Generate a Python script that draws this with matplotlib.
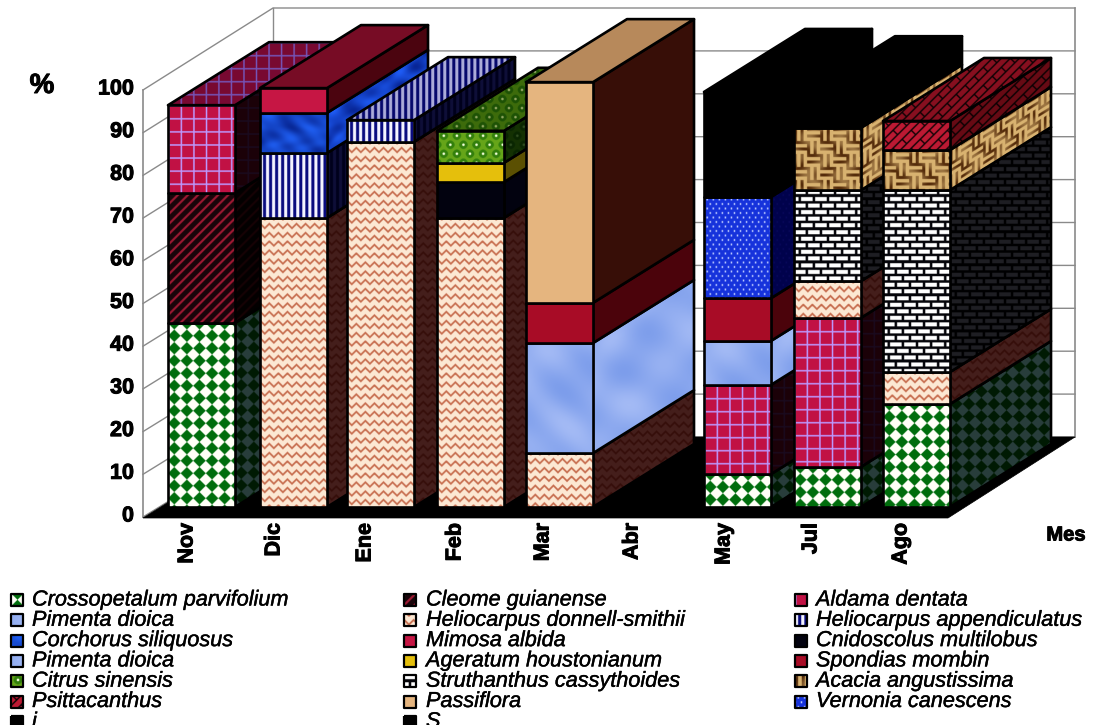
import numpy as np
import matplotlib
matplotlib.use('Agg')
import matplotlib.pyplot as plt
import matplotlib.patheffects as pe
from matplotlib.patches import Polygon
from matplotlib.transforms import Affine2D

months = ['Nov', 'Dic', 'Ene', 'Feb', 'Mar', 'Abr', 'May', 'Jul', 'Ago']

# percent per month, one list per species, in stacking order
crossopetalum = [43.1, 0, 0, 0, 0, 0, 7.7, 9.4, 24.1]
cleome = [30.4, 0, 0, 0, 0, 0, 0, 0, 0]
aldama = [20.6, 0, 0, 0, 0, 0, 20.9, 34.9, 0]
pimenta_a = [0, 0, 0, 0, 0, 0, 10.3, 0, 0]
helio_donnell = [0, 67.7, 85.5, 67.7, 12.6, 0, 0, 8.6, 7.5]
helio_append = [0, 15.2, 5.1, 0, 0, 0, 0, 0, 0]
corchorus = [0, 9.4, 0, 0, 0, 0, 0, 0, 0]
mimosa = [0, 5.8, 0, 0, 0, 0, 0, 0, 0]
cnidoscolus = [0, 0, 0, 8.4, 0, 0, 0, 0, 0]
pimenta_b = [0, 0, 0, 0, 25.8, 0, 0, 0, 0]
ageratum = [0, 0, 0, 4.5, 0, 0, 0, 0, 0]
spondias = [0, 0, 0, 0, 9.4, 0, 10.0, 0, 0]
citrus = [0, 0, 0, 7.5, 0, 0, 0, 0, 0]
struthanthus = [0, 0, 0, 0, 0, 0, 0, 21.3, 42.6]
acacia = [0, 0, 0, 0, 0, 0, 0, 14.6, 9.4]
psittacanthus = [0, 0, 0, 0, 0, 0, 0, 0, 6.8]
passiflora = [0, 0, 0, 0, 51.7, 0, 0, 0, 0]
vernonia = [0, 0, 0, 0, 0, 0, 23.7, 0, 0]
last_a = [0, 0, 0, 0, 0, 0, 24.6, 6.7, 0]
last_b = [0, 0, 0, 0, 0, 0, 0, 0, 0]

series = [crossopetalum, cleome, aldama, pimenta_a, helio_donnell, helio_append,
          corchorus, mimosa, cnidoscolus, pimenta_b, ageratum, spondias,
          citrus, struthanthus, acacia, psittacanthus, passiflora, vernonia,
          last_a, last_b]
names = ['Crossopetalum parvifolium', 'Cleome guianense', 'Aldama dentata',
         'Pimenta dioica', 'Heliocarpus donnell-smithii', 'Heliocarpus appendiculatus',
         'Corchorus siliquosus', 'Mimosa albida', 'Cnidoscolus multilobus',
         'Pimenta dioica', 'Ageratum houstonianum', 'Spondias mombin',
         'Citrus sinensis', 'Struthanthus cassythoides', 'Acacia angustissima',
         'Psittacanthus', 'Passiflora', 'Vernonia canescens', 'i', 'S']

y_ticks = [0, 10, 20, 30, 40, 50, 60, 70, 80, 90, 100]

# projection of the box, in pixels
FRONT_X, FRONT_Y0, FRONT_Y100 = 143, 517, 90
BACK_X0, BACK_X1, BACK_Y0, BACK_Y100 = 273, 1075, 437, 8
FLOOR_RIGHT = 948
bar_lefts = [168, 260, 347, 437, 526, 615, 704, 794, 883]
label_xs = [187, 274, 365, 455, 543, 632, 724, 811, 901]
BAR_W = 67
BAR_BASE, PX_PER_UNIT = 507, 4.27
DEPTH = (101, -63)

RES = 2  # texture samples per pixel
EDGE = 1.9


def c(*rgb):
    return np.array(rgb, dtype=float)


def mix(mask, fg, bg):
    mask = np.clip(mask, 0, 1)[..., None]
    return mask * fg + (1 - mask) * bg


def tex_diamond(x, y):
    p = 12.5
    odd = (np.floor((x + y) / p) + np.floor((x - y) / p)) % 2
    return mix(odd, c(1, 1, .97), c(0, .43, .05))


def tex_hatch(x, y):
    return mix(((x + y) % 10) < 2.6, c(.62, .1, .2), c(.1, .02, .04))


def tex_plaid(x, y):
    m = ((x % 12.5) < 1.3) | ((y % 13) < 1.3)
    return mix(m, c(.74, .6, 1), c(.76, .07, .27))


def tex_marble_light(x, y):
    n = (np.sin(x / 17 + np.sin(y / 23) * 2) + np.sin(y / 13 + x / 31) + np.sin((x - y) / 9)) / 3
    return c(.56, .67, .94) + n[..., None] * c(.08, .06, .02)


def tex_chevron(x, y):
    px = 9.0
    tri = np.abs((x % px) / px - .5) * 2 * 4.4
    return mix(((y + tri) % 8.8) < 2.5, c(.78, .43, .31), c(.99, .91, .83))


def tex_stripes(x, y):
    return mix((x % 6) < 3, c(.96, .96, 1), c(.04, .05, .5))


def tex_marble_blue(x, y):
    n = (np.sin(x / 7 + np.sin(y / 5) * 2) + np.sin(y / 6 + x / 11) + np.sin((x - y) / 4)) / 3
    return c(.08, .27, .78) + n[..., None] * c(.05, .12, .2)


def tex_bricks(x, y):
    row = np.floor(y / 6.6)
    xx = x + (row % 2) * 7
    m = ((y % 6.6) < 4) & ((xx % 14) < 11.5)
    return mix(m, c(1, 1, 1), c(.02, .02, .04))


def tex_green_dots(x, y):
    row = np.floor(y / 9)
    xx = x + (row % 2) * 6.5
    d = np.hypot((xx % 13) - 6.5, (y % 9) - 4.5)
    out = mix(d < 4.2, c(.2, .5, .05), c(.4, .65, .1))
    return mix(d < 1.4, c(.95, 1, .85), out)


def tex_weave(x, y):
    cell = (np.floor(x / 13) + np.floor(y / 13)) % 2
    a = np.where(cell > 0, (y % 6.5) < 2.6, (x % 6.5) < 2.6)
    n = .5 + .5 * np.sin(x / 5 + np.sin(y / 6) * 2)
    return mix(a * (.45 + .55 * n), c(.33, .17, .04), c(.85, .7, .44))


def tex_red_brick(x, y):
    m1 = ((x + y) % 9) < 1.8
    m2 = (((x - y) % 18) < 2) & (((x + y) % 18) < 9)
    return mix(m1 | m2, c(.06, .01, .02), c(.74, .1, .2))


def tex_blue_dots(x, y):
    row = np.floor(y / 4.5)
    xx = x + (row % 2) * 3
    d = np.hypot((xx % 6) - 3, (y % 4.5) - 2.25)
    return mix(d < 1.0, c(.72, .78, 1), c(.09, .2, .86))


def flat(col):
    return lambda x, y: np.broadcast_to(c(*col), x.shape + (3,))


textures = [tex_diamond, tex_hatch, tex_plaid, tex_marble_light, tex_chevron,
            tex_stripes, tex_marble_blue, flat((.78, .09, .27)), flat((.01, .01, .06)),
            tex_marble_light, flat((.9, .75, .05)), flat((.66, .05, .15)),
            tex_green_dots, tex_bricks, tex_weave, tex_red_brick,
            flat((.9, .71, .5)), tex_blue_dots, flat((0, 0, 0)), flat((0, 0, 0))]
# fill effects follow the face, hatch patterns stay aligned with the page
follows_face = [tex_marble_light, tex_marble_blue, tex_weave]

side_shades = [(.16, .24, .24), (.14, .08, .08), (.14, .07, .12), (1, 1, 1), (.27, .13, .13),
               (.06, .06, .22), (.95, .95, 1), (.38, .18, .22), (1, 1, 1), (1, 1, 1),
               (.4, .42, .2), (.45, .3, .3), (.2, .3, .15), (.12, .12, .14), (1, 1, 1),
               (.55, .4, .4), (.24, .08, .06), (.04, .04, .35), (1, 1, 1), (1, 1, 1)]
top_shades = [(.5, .5, .5), (.6, .6, .6), (.62, .55, .72), (1, 1, 1), (.6, .5, .5),
              (.7, .7, .85), (1, 1, 1), (.6, .55, .55), (1, 1, 1), (1, 1, 1),
              (.7, .7, .5), (.7, .6, .6), (.6, .65, .45), (.4, .4, .4), (1, 1, 1),
              (.72, .62, .62), (.8, .76, .72), (.5, .5, .7), (1, 1, 1), (1, 1, 1)]

plt.rcParams['font.family'] = 'Liberation Sans'
fig = plt.figure(figsize=(11.01, 7.25), dpi=100)
ax = fig.add_axes([0, 0, 1, 1])
ax.set_xlim(0, 1101)
ax.set_ylim(725, 0)
ax.axis('off')
ax.set_autoscale_on(False)

z = [10]
heavy = [pe.withStroke(linewidth=.7, foreground='black')]
soft_heavy = [pe.withStroke(linewidth=.3, foreground='black')]


def face(tex, origin, u_vec, v_vec, w, h, shade=(1, 1, 1), edge=EDGE):
    # paint a texture clipped to the parallelogram spanned by u_vec*w and v_vec*h
    ox, oy = origin
    pts = [(ox, oy), (ox + u_vec[0] * w, oy + u_vec[1] * w),
           (ox + u_vec[0] * w + v_vec[0] * h, oy + u_vec[1] * w + v_vec[1] * h),
           (ox + v_vec[0] * h, oy + v_vec[1] * h)]
    if tex in follows_face:
        u_map, v_map, o_map, tw, th = u_vec, v_vec, origin, w, h
    else:
        px = [p[0] for p in pts]
        py = [p[1] for p in pts]
        u_map, v_map, o_map = (1, 0), (0, 1), (min(px), min(py))
        tw, th = max(px) - min(px), max(py) - min(py)
    xs = np.arange(int(np.ceil(tw * RES)) + 1) / RES
    ys = np.arange(int(np.ceil(th * RES)) + 1) / RES
    x, y = np.meshgrid(xs, ys)
    rgb = np.clip(np.asarray(tex(x, y)) * np.array(shade), 0, 1)
    z[0] += 1
    im = ax.imshow(rgb, extent=(0, xs[-1] + 1 / RES, ys[-1] + 1 / RES, 0), origin='upper',
                   interpolation='bilinear', aspect='auto', zorder=z[0])
    im.set_transform(Affine2D.from_values(u_map[0], u_map[1], v_map[0], v_map[1],
                                          o_map[0], o_map[1]) + ax.transData)
    clip = Polygon(pts, closed=True, transform=ax.transData, fc='none', ec='none')
    ax.add_patch(clip)
    im.set_clip_path(clip)
    z[0] += 1
    ax.add_patch(Polygon(pts, closed=True, fill=False, ec='black', lw=edge,
                         joinstyle='round', zorder=z[0]))


def y_of(v):
    return BAR_BASE - v * PX_PER_UNIT


# walls and gridlines
grid_col = '#8a8a8a'
for t in y_ticks:
    yf = FRONT_Y0 + (FRONT_Y100 - FRONT_Y0) * t / 100
    yb = BACK_Y0 + (BACK_Y100 - BACK_Y0) * t / 100
    ax.plot([FRONT_X, BACK_X0, BACK_X1], [yf, yb, yb], color=grid_col, lw=1.0, zorder=2)
    ax.text(FRONT_X - 9, yf - 1, str(t), ha='right', va='center', fontsize=15.5,
            fontweight='bold', color='black', path_effects=heavy)
ax.plot([FRONT_X, FRONT_X], [FRONT_Y0, FRONT_Y100], color=grid_col, lw=1.2, zorder=2)
ax.plot([BACK_X0, BACK_X0], [BACK_Y0, BACK_Y100], color=grid_col, lw=1.0, zorder=2)
ax.plot([BACK_X1, BACK_X1], [BACK_Y0, BACK_Y100], color=grid_col, lw=1.2, zorder=2)
ax.add_patch(Polygon([(FRONT_X, FRONT_Y0 + 1), (BACK_X0, BACK_Y0), (BACK_X1, BACK_Y0),
                      (FLOOR_RIGHT, FRONT_Y0 + 1)], closed=True, fc='black', ec='black',
                     lw=.5, zorder=3))

# stacked bars, drawn left to right so nearer ones cover the previous side faces
depth_len = np.hypot(*DEPTH)
unit_d = (DEPTH[0] / depth_len, DEPTH[1] / depth_len)
for i, month in enumerate(months):
    x0 = bar_lefts[i]
    x1 = x0 + BAR_W
    parts = [(k, s[i]) for k, s in enumerate(series) if s[i] > 0]
    bottom = 0
    fronts = []
    for k, v in parts:
        ytop = y_of(bottom + v)
        face(textures[k], (x1, ytop), unit_d, (0, 1), depth_len, v * PX_PER_UNIT,
             side_shades[k])
        fronts.append((k, ytop, v))
        bottom += v
    if parts:
        k = parts[-1][0]
        face(textures[k], (x0, y_of(bottom)), (1, 0), unit_d, BAR_W, depth_len, top_shades[k])
    for k, ytop, v in fronts:
        face(textures[k], (x0, ytop), (1, 0), (0, 1), BAR_W, v * PX_PER_UNIT)
    ax.text(label_xs[i], 523, month, rotation=90, ha='center', va='top', fontsize=15.5,
            fontweight='bold', color='black', zorder=500, path_effects=heavy)

ax.text(42, 86, '%', ha='center', va='center', fontsize=20, fontweight='bold', color='black',
        path_effects=heavy)
ax.text(1066, 535, 'Mes', ha='center', va='center', fontsize=14.5, fontweight='bold',
        color='black', path_effects=heavy)

# legend, three columns filled row by row; the last row runs off the page
col_swatch = [11, 404, 795]
col_text = [32, 426, 816]
for n, label in enumerate(names):
    row, col = divmod(n, 3)
    yc = 600 + row * 20.3
    face(textures[n], (col_swatch[col], yc - 6), (1, 0), (0, 1), 12, 12, edge=1.6)
    ax.text(col_text[col], yc, label, ha='left', va='center', fontsize=15.6, style='italic',
            color='black', zorder=500, path_effects=soft_heavy)

plt.savefig('out.png', dpi=100)
